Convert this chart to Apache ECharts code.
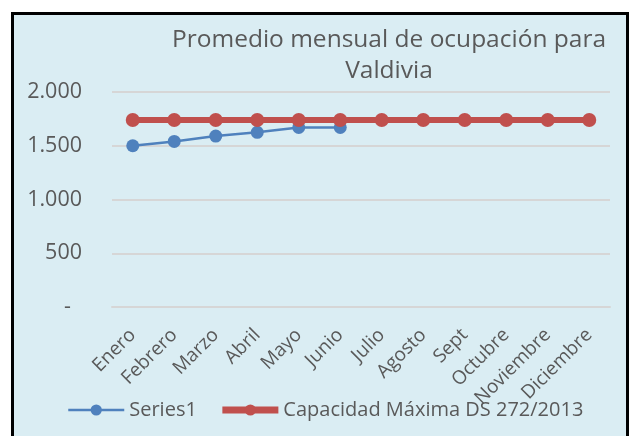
<!DOCTYPE html>
<html>
<head>
<meta charset="utf-8">
<script src="https://cdn.jsdelivr.net/npm/echarts@6/dist/echarts.min.js"></script>
<style>
  html, body { margin: 0; padding: 0; background: #fff; }
  #frame {
    position: absolute; left: 11px; top: 12px; width: 612px; height: 440px;
    border: 3px solid #000; background: #daedf3;
  }
  #chart { position: absolute; left: 0; top: 0; width: 633px; height: 436px; }
</style>
</head>
<body>
<div id="frame"></div>
<div id="chart"></div>
<script>
// Months on the x axis
const months = ["Enero", "Febrero", "Marzo", "Abril", "Mayo", "Junio", "Julio",
  "Agosto", "Sept", "Octubre", "Noviembre", "Diciembre"];

// Monthly average occupancy (only first half of the year)
const series1 = [1500, 1540, 1590, 1625, 1670, 1670, null, null, null, null, null, null];

// Max capacity DS 272/2013
const capacidad = [1740, 1740, 1740, 1740, 1740, 1740, 1740, 1740, 1740, 1740, 1740, 1740];

const textColor = "#595959";
const font = "'Open Sans', 'Noto Sans', sans-serif";

const chart = echarts.init(document.getElementById("chart"), null, { renderer: "canvas" });

chart.setOption({
  backgroundColor: "transparent",
  animation: false,
  textStyle: { fontFamily: font },
  title: {
    text: "Promedio mensual de ocupación para\nValdivia",
    left: 384,
    top: 20,
    textAlign: "center",
    textStyle: {
      color: textColor,
      fontSize: 24.5,
      fontWeight: "normal",
      lineHeight: 31,
      fontFamily: font,
    },
  },
  legend: {
    left: 62,
    top: 395,
    itemWidth: 56,
    itemHeight: 14,
    itemGap: 22,
    textStyle: { color: textColor, fontSize: 20, fontFamily: font },
    data: [
      { name: "Series1", lineStyle: { width: 2.5 } },
      { name: "Capacidad Máxima DS 272/2013", lineStyle: { width: 7 } },
    ],
  },
  grid: { left: 112, right: 23, top: 92, bottom: 129 },
  xAxis: {
    type: "category",
    data: months,
    boundaryGap: true,
    axisLine: { show: true, lineStyle: { color: "#d6d6d6", width: 2 } },
    axisTick: { show: false },
    axisLabel: {
      rotate: 45,
      margin: 25,
      interval: 0,
      color: textColor,
      fontSize: 19,
      fontFamily: font,
    },
  },
  yAxis: {
    type: "value",
    min: 0,
    max: 2000,
    interval: 500,
    axisLine: { show: false },
    axisTick: { show: false },
    splitLine: { lineStyle: { color: "#d6d6d6", width: 2 } },
    axisLabel: {
      margin: 30,
      color: textColor,
      fontSize: 21.5,
      fontFamily: font,
      formatter: (v) => (v === 0 ? "-  " : String(v).replace(/\B(?=(\d{3})+(?!\d))/g, ".")),
    },
  },
  series: [
    {
      name: "Series1",
      type: "line",
      data: series1,
      symbol: "circle",
      symbolSize: 13,
      itemStyle: { color: "#4f81bd" },
      lineStyle: { color: "#4f81bd", width: 2.5 },
    },
    {
      name: "Capacidad Máxima DS 272/2013",
      type: "line",
      data: capacidad,
      symbol: "circle",
      symbolSize: 14,
      itemStyle: { color: "#c0504d" },
      lineStyle: { color: "#c0504d", width: 6 },
    },
  ],
});
</script>
</body>
</html>
